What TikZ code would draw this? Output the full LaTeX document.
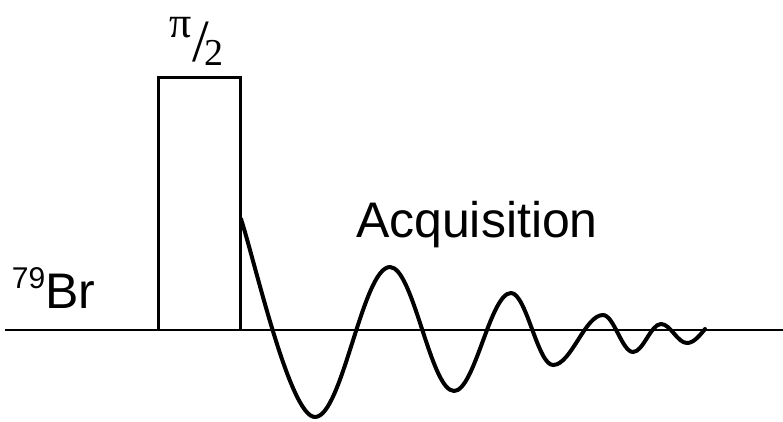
\documentclass[tikz,border=0pt]{standalone}
\usepackage{fontspec}
\setmainfont{Liberation Sans}
\newfontfamily\serifgr{Liberation Serif}
\begin{document}
\begin{tikzpicture}[x=1pt,y=-1pt,
  axisline/.style={line width=2pt},
  pulsebox/.style={line width=3pt, line join=miter},
  fid/.style={line width=4pt, line cap=round, line join=round},
  lbl/.style={inner sep=0pt, outer sep=0pt}]
\useasboundingbox (0,0) rectangle (783,421);
\coordinate (l0) at (5,330);
\coordinate (l1) at (783,330);
\draw[axisline] (l0) -- (l1);
\coordinate (b0) at (158,330);
\coordinate (b1) at (158,77);
\coordinate (b2) at (240,77);
\coordinate (b3) at (240,330);
\draw[pulsebox] (b0) -- (b1) -- (b2) -- (b3);
\draw[fid] (241,219)
  .. controls (255,262) and (290,417) .. (315,417)
  .. controls (342.3,417) and (362.7,267) .. (390,267)
  .. controls (413.3,267) and (430.7,391) .. (454,391)
  .. controls (474.8,391) and (490.2,293) .. (511,293)
  .. controls (526.3,293) and (537.7,365) .. (553,365)
  .. controls (571.2,365) and (584.8,315) .. (603,315)
  .. controls (613.9,315) and (622.1,352) .. (633,352)
  .. controls (643.2,352) and (650.8,324) .. (661,324)
  .. controls (670.5,324) and (677.5,343) .. (687,343)
  .. controls (694,343) and (700,335) .. (705,329);
\node[lbl, anchor=base west, font=\fontsize{50}{50}\selectfont] (acq) at (356,237) {Acquisition};
\node[lbl, anchor=base west, font=\fontsize{50}{50}\selectfont] (br) at (12,308)
  {\raisebox{20pt}{\fontsize{30}{30}\selectfont 79}Br};
\node[lbl, anchor=base west] (pi) at (169,65)
  {\serifgr\raisebox{28pt}{\fontsize{44}{44}\selectfont π}\kern1pt\raisebox{4pt}{\fontsize{60}{60}\selectfont /}\kern-4pt{\fontsize{38}{38}\selectfont 2}};
\end{tikzpicture}
\end{document}
